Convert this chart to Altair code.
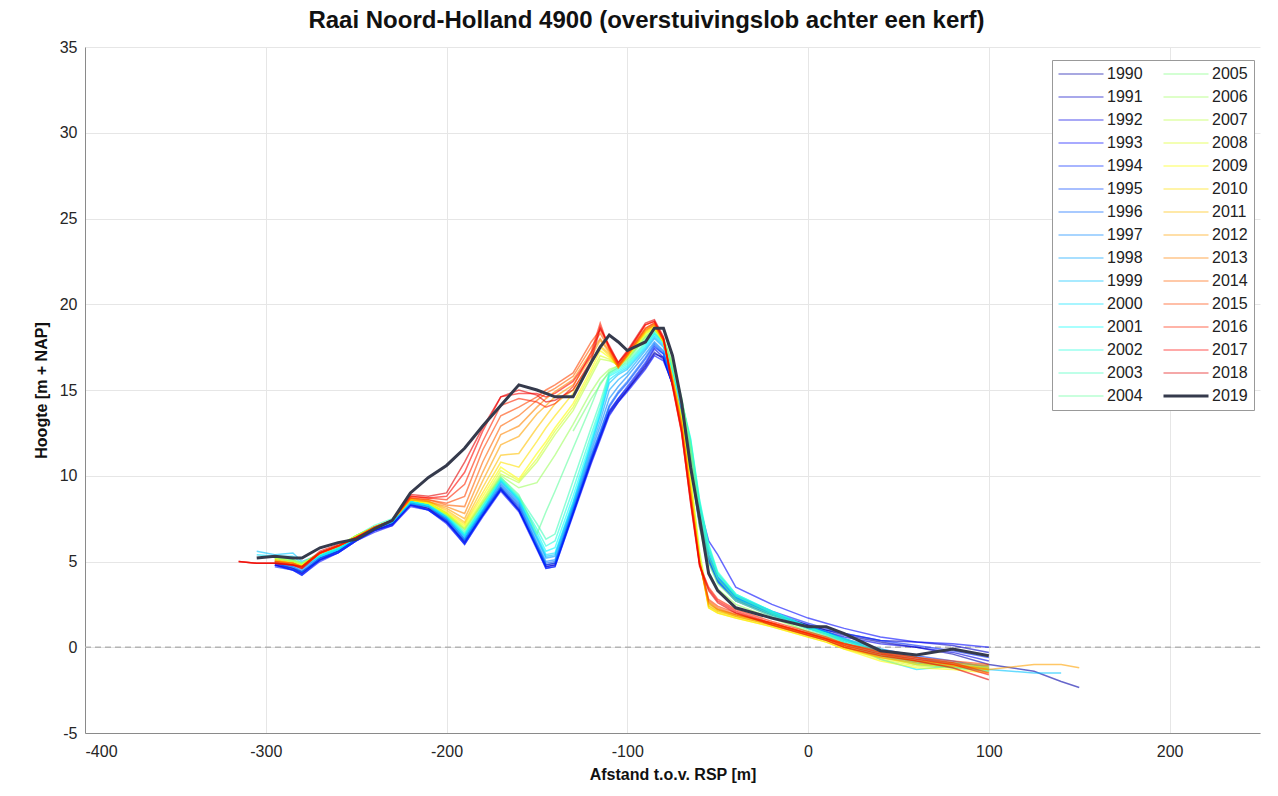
import altair as alt
import pandas as pd

# distance grid (m t.o.v. RSP)
X = [-315, -305, -295, -285, -280, -270, -260, -250, -240, -230, -220,
     -210, -200, -190, -180, -170, -160, -150, -145, -140, -130,
     -120, -115, -110, -105, -100, -90, -85, -80, -75, -70,
     -65, -60, -55, -50, -40, -20, 0,
     10, 20, 40, 60, 80, 100, 125, 140, 150]

N = None
YEARS = list(range(1990, 2020))

H1990 = [N, N, 4.8, 4.6, 4.4, 5.1, 5.6, 6.3, 6.8, 7.2, 8.3,
         8.1, 7.3, 6.2, 7.7, 9.2, 8.0, 5.9, 4.8, 4.9, 7.9,
         10.9, 12.3, 13.7, 14.4, 15.0, 16.4, 17.2, 16.8, 15.3, 13.5,
         11.0, 7.4, 5.2, 4.0, 2.9, 2.0, 1.3,
         1.0, 0.7, 0.3, 0.0, -0.4, -1.0, -1.4, -2.0, -2.35]
H1991 = [N, N, 4.9, 4.6, 4.3, 5.2, 5.6, 6.3, 6.8, 7.2, 8.4,
         8.1, 7.4, 6.1, 7.8, 9.3, 8.1, 5.8, 4.7, 4.8, 7.8,
         10.8, 12.2, 13.6, 14.3, 15.0, 16.3, 17.1, 16.9, 15.4, 13.6,
         11.2, 7.6, 5.3, 4.0, 2.8, 1.9, 1.3,
         1.0, 0.8, 0.4, 0.3, 0.1, -0.3, N, N, N]
H1992 = [N, N, 4.8, 4.5, 4.3, 5.1, 5.5, 6.2, 6.8, 7.1, 8.3,
         8.0, 7.3, 6.1, 7.7, 9.2, 8.0, 5.8, 4.7, 4.8, 7.9,
         11.0, 12.4, 13.8, 14.5, 15.1, 16.5, 17.4, 16.9, 15.3, 13.4,
         10.8, 7.2, 5.0, 3.9, 2.8, 1.9, 1.2,
         0.9, 0.6, 0.2, 0.0, -0.3, -0.8, N, N, N]
H1993 = [N, N, 4.8, 4.5, 4.2, 5.0, 5.5, 6.2, 6.7, 7.1, 8.2,
         8.0, 7.2, 6.0, 7.6, 9.1, 7.9, 5.7, 4.6, 4.7, 7.7,
         10.7, 12.1, 13.5, 14.3, 14.9, 16.2, 17.0, 16.7, 15.4, 13.8,
         11.6, 8.2, 6.2, 5.4, 3.5, 2.5, 1.7,
         1.4, 1.1, 0.6, 0.3, 0.2, 0.0, N, N, N]
H1994 = [N, N, 4.7, 4.5, 4.2, 5.1, 5.5, 6.2, 6.8, 7.2, 8.3,
         8.0, 7.3, 6.0, 7.7, 9.2, 8.0, 5.8, 4.6, 4.7, 7.8,
         10.9, 12.3, 13.7, 14.5, 15.2, 16.6, 17.5, 17.1, 15.5, 13.6,
         11.0, 7.5, 5.3, 4.1, 3.0, 2.1, 1.4,
         1.1, 0.8, 0.4, 0.1, -0.2, -0.6, N, N, N]
H1995 = [N, N, 4.9, 4.6, 4.4, 5.2, 5.6, 6.3, 6.9, 7.3, 8.4,
         8.2, 7.4, 6.2, 7.8, 9.3, 8.2, 5.9, 4.8, 4.9, 8.0,
         11.1, 12.5, 14.0, 14.8, 15.4, 16.8, 17.6, 17.1, 15.3, 13.3,
         10.6, 7.0, 5.0, 3.8, 2.7, 1.9, 1.2,
         0.9, 0.5, -0.1, -0.5, -0.8, -1.2, N, N, N]
H1996 = [N, N, 4.9, 4.7, 4.4, 5.2, 5.7, 6.3, 6.9, 7.3, 8.4,
         8.2, 7.5, 6.3, 7.9, 9.4, 8.3, 6.0, 4.9, 5.0, 8.1,
         11.2, 12.6, 14.1, 14.9, 15.5, 16.9, 17.7, 17.2, 15.4, 13.4,
         10.8, 7.2, 5.0, 3.8, 2.7, 1.8, 1.1,
         0.8, 0.4, -0.2, -0.6, -1.0, -1.3, N, N, N]
H1997 = [N, N, 5.0, 4.7, 4.5, 5.3, 5.7, 6.4, 6.9, 7.3, 8.5,
         8.2, 7.5, 6.3, 7.9, 9.5, 8.4, 6.1, 5.0, 5.1, 8.2,
         11.4, 12.9, 14.5, 15.2, 15.8, 17.1, 17.8, 17.3, 15.5, 13.6,
         11.2, 7.6, 5.2, 3.9, 2.8, 1.9, 1.2,
         0.9, 0.5, -0.3, -0.8, -1.1, -1.4, N, N, N]
H1998 = [N, N, 5.1, 4.8, 4.6, 5.3, 5.8, 6.4, 7.0, 7.4, 8.5,
         8.3, 7.6, 6.4, 8.0, 9.6, 8.5, 6.3, 5.2, 5.3, 8.3,
         11.6, 13.2, 15.0, 15.6, 16.0, 17.3, 18.0, 17.5, 15.8, 13.9,
         11.5, 7.9, 5.4, 4.0, 2.9, 2.0, 1.2,
         0.9, 0.4, -0.4, -0.9, -1.1, -1.3, N, N, N]
H1999 = [N, 5.6, 5.4, 5.5, 5.0, 5.4, 5.8, 6.5, 7.0, 7.4, 8.5,
         8.3, 7.6, 6.5, 8.0, 9.7, 8.6, 6.4, 5.3, 5.4, 8.4,
         11.8, 13.5, 15.4, 15.9, 16.2, 17.4, 18.1, 17.6, 16.0, 14.1,
         11.8, 8.2, 5.6, 4.1, 2.9, 1.9, 1.1,
         0.8, 0.3, -0.5, -1.0, -1.2, -1.3, -1.5, -1.5, N]
H2000 = [N, 5.4, 5.3, 5.3, 4.9, 5.3, 5.7, 6.4, 6.9, 7.3, 8.4,
         8.2, 7.6, 6.5, 8.1, 9.7, 8.6, 6.5, 5.4, 5.5, 8.5,
         11.9, 13.6, 15.6, 16.0, 16.3, 17.5, 18.2, 17.7, 16.1, 14.2,
         11.9, 8.3, 5.7, 4.2, 3.0, 2.0, 1.1,
         0.7, 0.3, -0.7, -1.3, -1.1, -1.2, N, N, N]
H2001 = [N, N, 5.2, 5.0, 4.7, 5.3, 5.7, 6.4, 7.0, 7.4, 8.5,
         8.3, 7.7, 6.6, 8.2, 9.8, 8.7, 6.7, 5.6, 5.8, 8.8,
         12.1, 13.8, 15.8, 16.1, 16.4, 17.6, 18.3, 17.8, 16.2, 14.3,
         12.1, 8.5, 5.9, 4.3, 3.1, 2.1, 1.2,
         0.8, 0.4, -0.3, -0.9, -1.2, -1.4, N, N, N]
H2002 = [N, N, 5.2, 5.0, 4.8, 5.4, 5.8, 6.5, 7.0, 7.4, 8.5,
         8.3, 7.7, 6.6, 8.2, 9.8, 8.7, 6.9, 5.9, 6.2, 9.2,
         12.4, 14.0, 15.9, 16.2, 16.5, 17.7, 18.3, 17.8, 16.3, 14.4,
         12.2, 8.6, 6.0, 4.4, 3.1, 2.1, 1.2,
         0.8, 0.5, -0.1, -0.6, -0.9, -1.1, N, N, N]
H2003 = [N, N, 5.3, 5.1, 4.8, 5.4, 5.8, 6.5, 7.1, 7.5, 8.6,
         8.4, 7.8, 6.7, 8.3, 9.9, 8.8, 7.2, 6.3, 6.6, 9.7,
         12.8, 14.3, 16.0, 16.3, 16.6, 17.8, 18.4, 17.9, 16.4, 14.4,
         12.0, 8.4, 5.8, 4.3, 3.0, 2.0, 1.1,
         0.8, 0.4, -0.2, -0.7, -1.0, -1.2, N, N, N]
H2004 = [N, N, 5.3, 5.1, 4.9, 5.5, 5.9, 6.5, 7.0, 7.4, 8.6,
         8.4, 7.8, 6.8, 8.4, 9.9, 8.9, 6.6, 7.9, 9.1, 11.6,
         14.1, 15.4, 16.0, 16.3, 16.7, 18.0, 18.5, 18.0, 16.5, 14.5,
         11.8, 8.0, 5.3, 4.0, 2.8, 1.9, 1.0,
         0.7, 0.3, -0.3, -0.8, -1.0, -1.2, N, N, N]
H2005 = [N, N, N, N, N, N, N, N, N, N, N,
         N, N, N, N, N, N, N, N, N, 12.6,
         14.5, 15.3, 16.1, 16.4, 16.8, 18.1, 18.5, 18.0, 16.6, 14.6,
         11.6, 7.6, 4.9, 3.7, 2.7, 1.8, 0.9,
         0.6, 0.2, -0.4, -0.8, -0.9, -1.1, N, N, N]
H2006 = [N, N, 5.3, 5.1, 4.9, 5.5, 5.9, 6.5, 7.0, 7.4, 8.6,
         8.4, 7.8, 6.9, 8.4, 10.0, 9.3, 9.6, 10.4, 11.2, 13.0,
         14.9, 15.7, 16.2, 16.4, 16.8, 18.1, 18.5, 18.0, 16.4, 14.3,
         11.2, 7.0, 4.4, 3.4, 2.5, 1.7, 0.9,
         0.6, 0.2, -0.5, -0.9, -1.0, -1.2, N, N, N]
H2007 = [N, N, 5.2, 5.0, 4.8, 5.5, 5.9, 6.5, 7.0, 7.4, 8.6,
         8.4, 7.7, 6.9, 8.5, 10.1, 9.6, 10.8, 11.6, 12.4, 13.8,
         15.8, 16.8, 16.7, 16.5, 16.9, 18.2, 18.6, 17.8, 15.8, 13.5,
         10.0, 5.6, 2.6, 2.2, 1.9, 1.4, 0.8,
         0.5, 0.1, -0.6, -1.0, -1.1, -1.3, N, N, N]
H2008 = [N, N, 5.2, 5.0, 4.8, 5.5, 5.9, 6.5, 7.0, 7.4, 8.6,
         8.4, 7.8, 7.0, 8.6, 10.3, 9.7, 11.0, 11.8, 12.6, 14.0,
         16.0, 17.0, 16.8, 16.4, 16.9, 18.3, 18.6, 17.8, 15.8, 13.4,
         9.8, 5.4, 2.4, 2.1, 1.8, 1.3, 0.7,
         0.4, 0.0, -0.7, -1.1, -1.2, -1.4, N, N, N]
H2009 = [N, N, 5.1, 4.9, 4.8, 5.5, 5.9, 6.4, 7.0, 7.4, 8.6,
         8.4, 7.8, 7.1, 8.8, 10.5, 9.8, 11.3, 12.0, 12.8, 14.2,
         16.2, 17.3, 16.9, 16.4, 17.0, 18.3, 18.7, 17.8, 15.7, 13.3,
         9.6, 5.2, 2.3, 2.0, 1.7, 1.2, 0.6,
         0.3, -0.1, -0.8, -1.2, -1.3, -1.5, N, N, N]
H2010 = [N, N, 5.1, 4.9, 4.7, 5.5, 5.9, 6.4, 7.0, 7.4, 8.6,
         8.5, 7.9, 7.2, 9.0, 10.8, 10.5, 12.0, 12.8, 13.5, 14.8,
         16.5, 17.5, 17.0, 16.4, 17.0, 18.4, 18.7, 17.8, 15.6, 13.2,
         9.4, 5.1, 2.3, 2.0, 1.7, 1.2, 0.6,
         0.3, -0.1, -0.6, -1.0, -1.1, -1.3, N, N, N]
H2011 = [N, N, 5.1, 4.9, 4.7, 5.5, 5.9, 6.4, 7.0, 7.4, 8.6,
         8.5, 8.0, 7.3, 9.3, 11.2, 11.3, 12.8, 13.5, 14.2, 15.0,
         16.6, 17.6, 17.1, 16.3, 17.0, 18.4, 18.8, 17.9, 15.6, 13.1,
         9.2, 5.0, 2.4, 2.1, 1.8, 1.3, 0.7,
         0.4, 0.0, -0.5, -0.8, -1.0, -1.2, N, N, N]
H2012 = [N, N, 5.0, 4.9, 4.7, 5.5, 5.9, 6.4, 7.0, 7.4, 8.6,
         8.5, 8.1, 7.5, 9.7, 11.8, 12.3, 13.6, 14.1, 14.6, 15.3,
         16.9, 17.9, 17.2, 16.3, 17.0, 18.5, 18.8, 17.9, 15.6, 13.0,
         9.0, 5.0, 2.5, 2.2, 1.8, 1.3, 0.7,
         0.4, 0.0, -0.6, -0.9, -1.1, -1.3, -1.0, -1.0, -1.2]
H2013 = [N, N, 5.0, 4.9, 4.7, 5.5, 5.9, 6.4, 7.0, 7.4, 8.7,
         8.5, 8.2, 7.8, 10.2, 12.4, 12.9, 14.0, 14.5, 14.9, 15.6,
         17.2, 18.0, 17.3, 16.3, 17.0, 18.5, 18.8, 17.9, 15.6, 13.0,
         9.0, 5.0, 2.6, 2.2, 1.9, 1.4, 0.8,
         0.5, 0.1, -0.4, -0.8, -1.0, -1.3, N, N, N]
H2014 = [N, N, 5.0, 4.9, 4.7, 5.5, 5.9, 6.4, 7.0, 7.4, 8.7,
         8.6, 8.3, 8.2, 10.8, 12.9, 13.5, 14.4, 14.8, 15.1, 15.8,
         17.5, 18.3, 17.4, 16.4, 17.1, 18.6, 18.9, 17.9, 15.5, 12.9,
         8.9, 4.9, 2.7, 2.3, 1.9, 1.4, 0.8,
         0.5, 0.2, -0.3, -0.7, -0.9, -1.1, N, N, N]
H2015 = [N, N, 5.0, 4.8, 4.7, 5.5, 5.9, 6.4, 7.0, 7.4, 8.7,
         8.6, 8.4, 8.8, 11.5, 13.5, 14.0, 14.6, 15.0, 15.3, 16.0,
         17.8, 18.5, 17.5, 16.4, 17.1, 18.6, 18.9, 17.9, 15.4, 12.8,
         8.8, 4.9, 2.8, 2.4, 2.0, 1.4, 0.8,
         0.5, 0.2, -0.2, -0.6, -0.8, -1.0, N, N, N]
H2016 = [5.0, 4.9, 4.9, 4.8, 4.6, 5.5, 5.9, 6.4, 6.9, 7.4, 8.8,
         8.7, 8.6, 9.5, 12.0, 14.1, 14.5, 14.3, 14.0, 14.2, 15.2,
         17.2, 18.9, 17.4, 16.5, 17.2, 18.8, 19.0, 18.0, 15.2, 12.6,
         8.6, 4.8, 3.5, 2.8, 2.2, 1.5, 0.9,
         0.6, 0.2, -0.3, -0.6, -0.9, -1.5, N, N, N]
H2017 = [5.0, 4.9, 4.9, 4.8, 4.6, 5.5, 5.9, 6.4, 6.9, 7.4, 8.8,
         8.7, 8.8, 10.2, 12.6, 14.6, 14.8, 14.8, 14.6, 14.8, 15.5,
         17.0, 18.7, 17.5, 16.6, 17.2, 18.8, 19.0, 18.0, 15.2, 12.5,
         8.5, 4.8, 3.4, 2.7, 2.1, 1.4, 0.8,
         0.5, 0.1, -0.4, -0.7, -1.0, -1.6, N, N, N]
H2018 = [5.0, 4.9, 4.9, 4.8, 4.7, 5.6, 6.0, 6.4, 6.9, 7.4, 8.9,
         8.8, 9.0, 10.8, 12.8, 14.6, 15.0, 14.7, 14.3, 14.4, 15.0,
         16.7, 18.6, 17.6, 16.6, 17.3, 18.9, 19.1, 18.1, 15.3, 12.6,
         8.4, 4.7, 3.3, 2.6, 2.0, 1.3, 0.7,
         0.4, 0.0, -0.5, -0.8, -1.2, -1.9, N, N, N]
H2019 = [N, 5.2, 5.3, 5.2, 5.2, 5.8, 6.1, 6.3, 6.9, 7.4, 9.0,
         9.9, 10.6, 11.6, 12.9, 14.1, 15.3, 15.0, 14.8, 14.6, 14.6,
         16.6, 17.5, 18.2, 17.8, 17.3, 17.8, 18.6, 18.6, 17.0, 14.3,
         10.5, 7.5, 4.3, 3.3, 2.3, 1.7, 1.2,
         1.2, 0.8, -0.2, -0.45, -0.1, -0.5, N, N, N]

PROFILES = [H1990, H1991, H1992, H1993, H1994, H1995, H1996, H1997, H1998,
            H1999, H2000, H2001, H2002, H2003, H2004, H2005, H2006, H2007,
            H2008, H2009, H2010, H2011, H2012, H2013, H2014, H2015, H2016,
            H2017, H2018, H2019]

rows = []
for yr, prof in zip(YEARS, PROFILES):
    for x, h in zip(X, prof):
        if h is not None:
            rows.append({"jaar": str(yr), "afstand": x, "hoogte": h})
df = pd.DataFrame(rows)
df_old = df[df["jaar"] != "2019"]
df_last = df[df["jaar"] == "2019"]

# jet-like palette
def jet(t):
    def c(v):
        return max(0.0, min(1.0, v))
    r = c(1.5 - abs(4 * t - 3))
    g = c(1.5 - abs(4 * t - 2))
    b = c(1.5 - abs(4 * t - 1))
    return "#%02x%02x%02x" % (int(r * 255), int(g * 255), int(b * 255))

DOMAIN = [str(y) for y in YEARS]
RANGE = [jet(0.04 + 0.86 * i / 28) for i in range(29)] + ["#353a4c"]

FONT = "Liberation Sans"

legend = alt.Legend(
    title=None, orient="none", legendX=967, legendY=13, columns=2,
    symbolType="M-3,0H3", symbolSize=225,
    symbolStrokeWidth=alt.ExprRef(expr="datum.value == '2019' ? 3 : 1.5"),
    symbolOpacity=alt.ExprRef(expr="datum.value == '2019' ? 1 : 0.45"),
    symbolOffset=15, labelOffset=18,
    labelFontSize=16, labelFont=FONT, labelColor="#222222",
    strokeColor="#999999", fillColor="white", padding=6,
    rowPadding=7, columnPadding=14,
)

xenc = alt.X("afstand:Q",
             scale=alt.Scale(domain=[-400, 250], nice=False, zero=False),
             axis=alt.Axis(title="Afstand t.o.v. RSP [m]",
                           values=[-400, -300, -200, -100, 0, 100, 200],
                           labelExpr="'' + datum.value"))
yenc = alt.Y("hoogte:Q",
             scale=alt.Scale(domain=[-5, 35], nice=False, zero=False),
             axis=alt.Axis(title="Hoogte [m + NAP]",
                           values=[-5, 0, 5, 10, 15, 20, 25, 30, 35],
                           labelExpr="'' + datum.value"))
cenc = alt.Color("jaar:N", scale=alt.Scale(domain=DOMAIN, range=RANGE), legend=legend)

lines = alt.Chart(df_old).mark_line(strokeWidth=1.5, opacity=0.6).encode(
    x=xenc, y=yenc, color=cenc, detail="jaar:N",
)
last = alt.Chart(df_last).mark_line(strokeWidth=3, opacity=1).encode(
    x=xenc, y=yenc, color=cenc,
)

zero = pd.DataFrame({"x1": [-400], "x2": [250], "y": [0]})
zero_line = alt.Chart(zero).mark_rule(color="#b4b4b4", strokeDash=[6, 4], strokeWidth=1.5).encode(
    x="x1:Q", x2="x2:Q", y="y:Q"
)

chart = alt.layer(zero_line, lines, last).properties(
    width=1175, height=686,
    title=alt.TitleParams("Raai Noord-Holland 4900 (overstuivingslob achter een kerf)",
                          fontSize=24, font=FONT, fontWeight="bold", color="#111111",
                          anchor="middle", dx=-26, offset=6),
    autosize=alt.AutoSizeParams(type="none"),
    padding={"left": 85, "top": 47, "right": 18, "bottom": 63},
).configure_view(stroke=None).configure_axis(
    labelFont=FONT, titleFont=FONT, labelFontSize=16, titleFontSize=16,
    titleFontWeight="bold", labelColor="#262626", titleColor="#111111",
    gridColor="#e6e6e6", domainColor="#8a8a8a", ticks=False,
).configure_axisX(labelPadding=10, titlePadding=7).configure_axisY(labelPadding=8, titlePadding=10)

chart.save("out.html", embed_options={"renderer": "svg", "actions": False})
